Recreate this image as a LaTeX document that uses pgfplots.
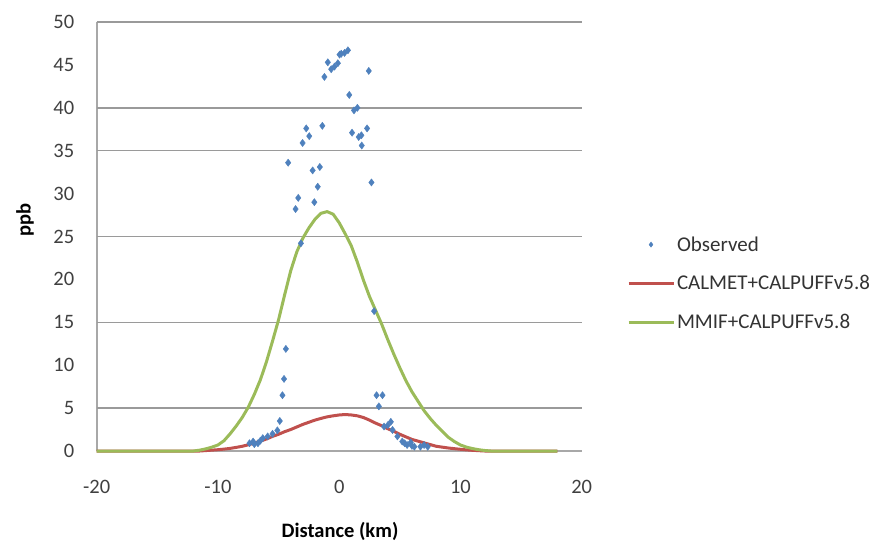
\documentclass[border=0pt]{standalone}
\usepackage{pgfplots}
\pgfplotsset{compat=1.18}
\usepackage{fontspec}
\setmainfont{Carlito}
\definecolor{obsblue}{HTML}{4F81BD}
\definecolor{calred}{HTML}{C0504D}
\definecolor{mmifgreen}{HTML}{9BBB59}
\definecolor{gridgray}{HTML}{9A9A9A}
\definecolor{axisgray}{HTML}{A8A8A8}

\pgfplotsset{
    marklegend/.style={legend image code/.code={\draw[##1] plot coordinates {(22.5pt,0pt)};}},
    linelegend/.style={legend image code/.code={\draw[##1] (0pt,0pt) -- (45pt,0pt);}},
}

\pgfplotstableread{
x y
0.72 46.7
0.44 46.4
0.17 46.3
0.03 46.2
-0.94 45.3
-0.11 45.2
-0.39 44.8
-0.66 44.5
-1.22 43.6
2.44 44.3
0.83 41.5
1.50 40.0
1.22 39.7
-2.72 37.6
-1.39 37.9
-2.47 36.7
-3.02 35.9
1.06 37.1
2.30 37.6
1.83 36.8
1.61 36.6
1.86 35.6
-4.21 33.6
-2.19 32.7
-1.60 33.1
-1.77 30.8
2.66 31.3
-3.38 29.5
-2.05 29.0
-3.60 28.2
-3.16 24.2
2.88 16.3
-4.40 11.9
-4.55 8.4
-4.68 6.5
3.08 6.5
3.57 6.5
3.27 5.2
-4.90 3.5
-5.10 2.4
-5.50 2.0
-5.90 1.7
-6.30 1.5
-6.70 0.9
-7.10 1.1
-7.40 0.9
-6.50 1.2
-7.00 0.8
4.26 3.4
3.70 2.85
4.00 3.0
4.40 2.45
4.80 1.7
5.20 1.1
5.60 0.7
5.90 1.0
6.20 0.5
6.70 0.5
7.30 0.5
7.00 0.7
6.00 0.6
5.40 0.9
}\observed

\pgfplotstableread{
x y
-20 0
-18 0
-16 0
-14 0
-12 0
-11.5 0
-11 0.05
-10.5 0.1
-10 0.15
-9.5 0.22
-9 0.3
-8.5 0.42
-8 0.55
-7.5 0.72
-7 0.92
-6.5 1.15
-6 1.4
-5.5 1.7
-5 1.95
-4.5 2.25
-4 2.5
-3.5 2.8
-3 3.1
-2.5 3.35
-2 3.6
-1.5 3.8
-1 3.98
-0.5 4.1
0 4.2
0.5 4.25
1 4.2
1.5 4.1
2 3.9
2.5 3.6
3 3.25
3.5 2.95
4 2.6
4.5 2.3
5 1.95
5.5 1.65
6 1.35
6.5 1.15
7 0.95
7.5 0.75
8 0.55
8.5 0.45
9 0.35
9.5 0.27
10 0.2
10.5 0.13
11 0.08
11.5 0.04
12 0
14 0
16 0
18 0
}\calmet

\pgfplotstableread{
x y
-20 0
-18 0
-16 0
-14 0
-12 0
-11.5 0.1
-11 0.25
-10.5 0.45
-10 0.7
-9.5 1.2
-9 2.0
-8.5 2.9
-8 3.9
-7.5 5.1
-7 6.6
-6.5 8.3
-6 10.4
-5.5 12.8
-5 15.3
-4.5 18.2
-4 21.0
-3.5 23.2
-3 24.8
-2.5 26.0
-2 27.0
-1.5 27.7
-1 27.9
-0.5 27.6
0 26.6
0.5 25.3
1 23.9
1.5 22.0
2 19.9
2.5 18.0
3 16.4
3.5 14.8
4 13.0
4.5 11.3
5 9.7
5.5 8.2
6 6.9
6.5 5.8
7 4.7
7.5 3.8
8 3.0
8.5 2.3
9 1.6
9.5 1.1
10 0.7
10.5 0.45
11 0.28
11.5 0.15
12 0.06
12.5 0
14 0
16 0
18 0
}\mmif

\begin{document}
\begin{tikzpicture}
\path (0,0) rectangle (890pt,543pt);
\begin{axis}[
    at={(96.7pt,92pt)}, anchor=south west,
    scale only axis, width=485pt, height=429pt,
    xmin=-20, xmax=20, ymin=0, ymax=50,
    xtick={-20,-10,...,20}, ytick={0,5,...,50},
    major tick length=0pt,
    axis lines*=left,
    axis line style={axisgray, line width=1.6pt},
    extra y ticks={5,15,25,35,40,50},
    extra y tick labels={},
    extra y tick style={grid=major, major grid style={gridgray, line width=1.6pt}},
    /pgf/number format/assume math mode=true,
    ticklabel style={font=\fontsize{20.5}{24}\selectfont, text=black!75},
    yticklabel style={xshift=-19pt},
    xticklabel style={yshift=-26pt},
    clip=false,
    legend style={at={(1.093,0.505)}, anchor=north west, draw=none, fill=none,
        font=\fontsize{21}{25}\selectfont, text=black!80, row sep=19pt,
        inner sep=0pt, nodes={inner sep=2pt}},
    legend cell align=left,
]
\addlegendimage{only marks, mark=diamond*, mark size=2.6pt, color=obsblue, marklegend}
\addlegendentry{Observed}
\addlegendimage{calred, line width=3pt, linelegend}
\addlegendentry{CALMET+CALPUFFv5.8}
\addlegendimage{mmifgreen, line width=3pt, linelegend}
\addlegendentry{MMIF+CALPUFFv5.8}

\addplot[forget plot, calred, line width=3pt, no marks] table {\calmet};
\addplot[forget plot, mmifgreen, line width=3pt, no marks] table {\mmif};
\addplot[forget plot, only marks, mark=diamond*, mark size=3.6pt, color=obsblue] table {\observed};
\end{axis}
\node[font=\fontsize{20.5}{24}\selectfont\bfseries] at (340pt,12pt) {Distance (km)};
\node[font=\fontsize{20.5}{24}\selectfont\bfseries, rotate=90] at (25pt,323pt) {ppb};
\end{tikzpicture}
\end{document}
